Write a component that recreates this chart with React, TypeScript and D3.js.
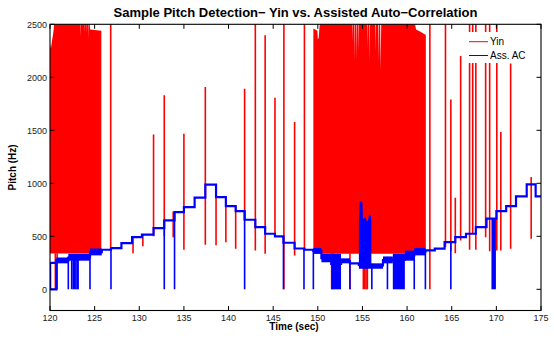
import React from 'react';
import * as d3 from 'd3';

const W = 554;
const H = 338;
const PLOT = { left: 50, right: 541, top: 24.3, bottom: 310.5 };

const titleText = 'Sample Pitch Detection\u2212 Yin vs. Assisted Auto\u2212Correlation';
const xLabel = 'Time (sec)';
const yLabel = 'Pitch (Hz)';
const legendLabels = ['Yin', 'Ass. AC'];

const xTicks = [120, 125, 130, 135, 140, 145, 150, 155, 160, 165, 170, 175];
const yTicks = [0, 500, 1000, 1500, 2000, 2500];

// ---- Yin (red): dense octave-error bursts (top envelope) ----
const yinBurst1T = [120.0, 120.1, 120.2, 120.4, 120.55, 123.35, 123.38, 123.42, 123.85, 123.88, 123.92, 124.02, 124.05, 124.09, 124.28, 124.31, 124.35, 124.5, 125.75];
const yinBurst1Hi = [2320, 2270, 2330, 2440, 2600, 2600, 2380, 2600, 2600, 2420, 2600, 2600, 2420, 2600, 2600, 2360, 2600, 2450, 2440];
const yinBurst2T = [149.5, 149.95, 150.0, 150.1, 150.15, 150.35, 153.85, 153.88, 153.92, 154.1, 154.13, 154.18, 154.3, 154.33, 154.38, 154.5, 154.53, 154.58, 155.5, 155.53, 155.58, 155.75, 155.78, 155.83, 156.4, 156.43, 156.48, 156.75, 156.79, 156.85, 156.98, 157.03, 157.12, 160.7, 161.0, 161.5, 162.1];
const yinBurst2Hi = [2460, 2440, 2360, 2370, 2440, 2600, 2600, 2330, 2600, 2600, 2150, 2600, 2600, 2160, 2600, 2600, 2250, 2600, 2600, 2280, 2600, 2600, 2140, 2600, 2600, 2250, 2600, 2600, 2150, 2600, 2600, 2070, 2600, 2600, 2450, 2430, 2400];
const yinBurstFloor = [338, 335];

// ---- Yin (red): isolated spikes [time, high, low] ----
const yinSpikeT = [120.6, 120.8, 126.8, 129.3, 130.4, 131.6, 132.8, 133.8, 135.0, 137.4, 138.6, 139.7, 140.8, 141.8, 143.0, 144.1, 145.2, 146.2, 147.4, 148.5, 151.55, 151.7, 153.6, 155.1, 155.25, 155.4, 155.55, 162.55, 164.3, 164.9, 165.4, 166.0, 167.0, 167.35, 167.7, 168.8, 169.25, 170.05, 170.5, 171.6, 173.9];
const yinSpikeHi = [340, 340, 2600, 492, 515, 1460, 1830, 735, 1468, 1909, 900, 870, 790, 1893, 2600, 2397, 1807, 2600, 1578, 2600, 340, 340, 340, 340, 340, 340, 340, 2600, 2600, 1790, 864, 2200, 2600, 2600, 2600, 2600, 2600, 2600, 1484, 2130, 1059];
const yinSpikeLo = [0, 0, 367, 340, 405, 500, 500, 492, 373, 420, 415, 445, 383, 650, 367, 335, 508, 0, 319, 380, 0, 0, 0, 0, 0, 0, 0, 0, 398, 360, 341, 461, 373, 520, 373, 492, 360, 367, 367, 383, 477];

// ---- Assisted AC (blue): main track vertices ----
const acT = [120.72, 120.02, 120.02, 120.72, 120.72, 122.05, 122.05, 124.48, 124.48, 125.8, 125.8, 126.83, 126.83, 128.0, 128.0, 129.2, 129.2, 130.3, 130.3, 131.6, 131.6, 132.8, 132.8, 133.95, 133.95, 135.0, 135.0, 136.2, 136.2, 137.4, 137.4, 138.6, 138.6, 139.7, 139.7, 140.8, 140.8, 141.8, 141.8, 143.0, 143.0, 144.1, 144.1, 145.2, 145.2, 146.15, 146.15, 147.4, 147.4, 148.5, 148.5, 149.5, 149.5, 150.4, 150.4, 151.5, 151.5, 152.6, 152.6, 153.6, 153.6, 154.6, 154.6, 156.0, 156.0, 157.3, 157.3, 158.4, 158.4, 159.75, 159.75, 160.8, 160.8, 162.05, 162.05, 163.1, 163.1, 164.2, 164.2, 165.4, 165.4, 166.6, 166.6, 167.7, 167.7, 168.9, 168.9, 170.0, 170.0, 171.1, 171.1, 172.2, 172.2, 173.4, 173.4, 174.4, 174.4, 175.0];
const acV = [250, 250, 0, 0, 272, 272, 300, 300, 350, 350, 373, 373, 388, 388, 435, 435, 492, 492, 515, 515, 577, 577, 650, 650, 728, 728, 775, 775, 864, 864, 987, 987, 870, 870, 785, 785, 737, 737, 656, 656, 587, 587, 524, 524, 500, 500, 439, 439, 385, 385, 373, 373, 362, 362, 295, 295, 240, 240, 265, 265, 245, 245, 230, 230, 225, 225, 275, 275, 280, 280, 320, 320, 355, 355, 367, 367, 383, 383, 445, 445, 492, 492, 524, 524, 587, 587, 666, 666, 737, 737, 785, 785, 876, 876, 990, 990, 876, 876];

// ---- Assisted AC (blue): rapidly alternating bands [t0, t1, low, high] ----
const acBandT0 = [120.72, 122.05, 124.48, 149.5, 150.4, 151.5, 152.6, 156.0, 157.3, 158.4, 159.75, 160.8, 169.45];
const acBandT1 = [122.05, 124.48, 125.8, 150.4, 151.5, 152.6, 153.6, 157.3, 158.4, 159.75, 160.8, 162.05, 169.95];
const acBandLo = [245, 270, 320, 335, 255, 0, 245, 194, 245, 0, 270, 320, 0];
const acBandHi = [300, 335, 385, 390, 335, 335, 292, 245, 310, 335, 365, 390, 666];

// ---- Assisted AC (blue): burst near 155 s ----
const acBurstT = [154.6, 154.7, 154.8, 155.0, 155.05, 155.3, 155.45, 155.6, 155.7, 155.8, 155.95, 156.0];
const acBurstHi = [620, 830, 830, 820, 660, 680, 650, 640, 690, 700, 690, 640];
const acBurstFloor = 194;

// ---- Assisted AC (blue): drop-outs to 0 ----
const acDropT = [122.05, 122.43, 122.6, 122.75, 122.9, 123.05, 123.15, 124.48, 126.83, 132.8, 133.95, 141.8, 146.15, 148.45, 149.5, 153.6, 156.05, 157.8, 160.8, 162.05, 164.9];
const acDropV = [300, 300, 300, 300, 300, 300, 300, 335, 388, 650, 728, 737, 500, 385, 373, 265, 240, 275, 355, 367, 445];

const RED = '#ff0000';
const BLUE = '#0000ff';
const FONT = '"Liberation Sans", Arial, Helvetica, sans-serif';

export default function App() {
  const x = d3.scaleLinear().domain([120, 175]).range([PLOT.left, PLOT.right]);
  const y = d3.scaleLinear().domain([-200, 2500]).range([PLOT.bottom, PLOT.top]);

  const burstArea = (floor: number) =>
    d3.area<[number, number]>()
      .x((d) => x(d[0]))
      .y0(() => y(floor))
      .y1((d) => y(d[1]));

  const burst1 = burstArea(yinBurstFloor[0])(yinBurst1T.map((t, i) => [t, yinBurst1Hi[i]]));
  const burst2 = burstArea(yinBurstFloor[1])(yinBurst2T.map((t, i) => [t, yinBurst2Hi[i]]));
  const acBurst = burstArea(acBurstFloor)(acBurstT.map((t, i) => [t, acBurstHi[i]]));

  const acLine = d3.line<[number, number]>()
    .x((d) => x(d[0]))
    .y((d) => y(d[1]))(acT.map((t, i) => [t, acV[i]]));

  const tickLen = 4.5;

  return (
    <svg width={W} height={H} style={{ position: 'absolute', left: 0, top: 0, background: '#fff' }} fontFamily={FONT}>
      <defs>
        <clipPath id="plotclip">
          <rect x={PLOT.left} y={PLOT.top} width={PLOT.right - PLOT.left} height={PLOT.bottom - PLOT.top} />
        </clipPath>
      </defs>
      <rect x={0} y={0} width={W} height={H} fill="#fff" />

      <g clipPath="url(#plotclip)">
        {/* Yin */}
        <path d={burst1 || ''} fill={RED} />
        <path d={burst2 || ''} fill={RED} />
        {yinSpikeT.map((t, i) => (
          <line key={'ys' + i} x1={x(t)} x2={x(t)} y1={y(yinSpikeHi[i])} y2={y(yinSpikeLo[i])} stroke={RED} strokeWidth={1.6} />
        ))}
        {/* Ass. AC */}
        {acBandT0.map((t0, i) => (
          <rect key={'ab' + i} x={x(t0)} width={x(acBandT1[i]) - x(t0)} y={y(acBandHi[i])} height={y(acBandLo[i]) - y(acBandHi[i])} fill={BLUE} />
        ))}
        <path d={acBurst || ''} fill={BLUE} />
        {acDropT.map((t, i) => (
          <line key={'ad' + i} x1={x(t)} x2={x(t)} y1={y(acDropV[i])} y2={y(0)} stroke={BLUE} strokeWidth={1.6} />
        ))}
        <path d={acLine || ''} fill="none" stroke={BLUE} strokeWidth={2.2} strokeLinejoin="miter" />
      </g>

      {/* axes box */}
      <rect x={PLOT.left} y={PLOT.top} width={PLOT.right - PLOT.left} height={PLOT.bottom - PLOT.top} fill="none" stroke="#000" strokeWidth={1.1} />
      {xTicks.map((t) => (
        <g key={'xt' + t}>
          <line x1={x(t)} x2={x(t)} y1={PLOT.bottom} y2={PLOT.bottom - tickLen} stroke="#000" />
          <line x1={x(t)} x2={x(t)} y1={PLOT.top} y2={PLOT.top + tickLen} stroke="#000" />
          <text x={x(t)} y={320.5} fontSize={9} textAnchor="middle" fill="#222">{t}</text>
        </g>
      ))}
      {yTicks.map((v) => (
        <g key={'yt' + v}>
          <line x1={PLOT.left} x2={PLOT.left + tickLen} y1={y(v)} y2={y(v)} stroke="#000" />
          <line x1={PLOT.right} x2={PLOT.right - tickLen} y1={y(v)} y2={y(v)} stroke="#000" />
          <text x={47} y={y(v) + 3.2} fontSize={9} textAnchor="end" fill="#222">{v}</text>
        </g>
      ))}

      {/* legend */}
      <rect x={465} y={32} width={72} height={31} fill="#fff" />
      <line x1={469} x2={488} y1={41.7} y2={41.7} stroke={RED} strokeWidth={1} />
      <text x={490} y={45} fontSize={10} fill="#000">{legendLabels[0]}</text>
      <line x1={469} x2={488} y1={55.5} y2={55.5} stroke={BLUE} strokeWidth={1} />
      <text x={490} y={59} fontSize={10} fill="#000">{legendLabels[1]}</text>

      {/* labels */}
      <text x={295.5} y={16.5} fontSize={13} fontWeight="bold" textAnchor="middle" fill="#000">{titleText}</text>
      <text x={294} y={330} fontSize={10} fontWeight="bold" textAnchor="middle" fill="#000">{xLabel}</text>
      <text transform={`translate(15.5, ${(PLOT.top + PLOT.bottom) / 2}) rotate(-90)`} fontSize={10} fontWeight="bold" textAnchor="middle" fill="#000">{yLabel}</text>
    </svg>
  );
}
